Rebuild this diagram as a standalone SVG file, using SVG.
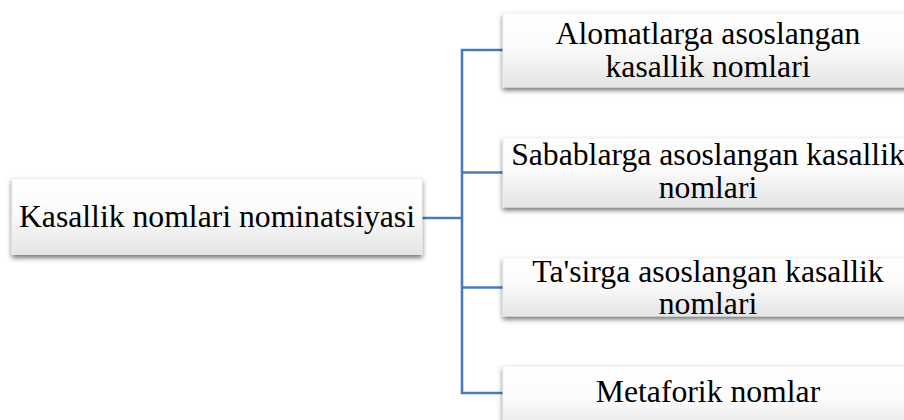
<svg xmlns="http://www.w3.org/2000/svg" width="904" height="420" viewBox="0 0 904 420">
<defs>
<linearGradient id="g" x1="0" y1="0" x2="0" y2="1">
<stop offset="0" stop-color="#ffffff"/>
<stop offset="0.45" stop-color="#fbfbfb"/>
<stop offset="1" stop-color="#e4e4e4"/>
</linearGradient>
<filter id="sh" x="-10%" y="-20%" width="120%" height="150%">
<feDropShadow dx="0" dy="3" stdDeviation="2.5" flood-color="#000" flood-opacity="0.55"/>
</filter>
</defs>
<style>
.box{fill:url(#g);stroke:#ececec;stroke-width:0.8;filter:url(#sh)}
.t{font-family:"Liberation Serif","Times New Roman",serif;font-size:31.7px;fill:#000;text-anchor:middle}
.c{fill:none;stroke:#4a7bb5;stroke-width:2.6}
</style>
<g id="connectors">
<polyline class="c" points="422,218 462,218"/>
<polyline class="c" points="503,50 462,50 462,393 503,393"/>
<line class="c" x1="462" y1="172.5" x2="503" y2="172.5"/>
<line class="c" x1="462" y1="287.5" x2="503" y2="287.5"/>
</g>
<g id="root">
<rect class="box" x="12" y="178.5" width="410" height="76"/>
<text class="t" x="217" y="227">Kasallik nomlari nominatsiyasi</text>
</g>
<g id="n1">
<rect class="box" x="503" y="13" width="410" height="74"/>
<text class="t" x="708" y="44">Alomatlarga asoslangan</text>
<text class="t" x="708" y="77">kasallik nomlari</text>
</g>
<g id="n2">
<rect class="box" x="503" y="138" width="410" height="69"/>
<text class="t" x="708" y="165">Sabablarga asoslangan kasallik</text>
<text class="t" x="708" y="198">nomlari</text>
</g>
<g id="n3">
<rect class="box" x="503" y="258" width="410" height="58"/>
<text class="t" x="708" y="282">Ta'sirga asoslangan kasallik</text>
<text class="t" x="708" y="314">nomlari</text>
</g>
<g id="n4">
<rect class="box" x="503" y="366" width="410" height="70"/>
<text class="t" x="708" y="402">Metaforik nomlar</text>
</g>
</svg>
